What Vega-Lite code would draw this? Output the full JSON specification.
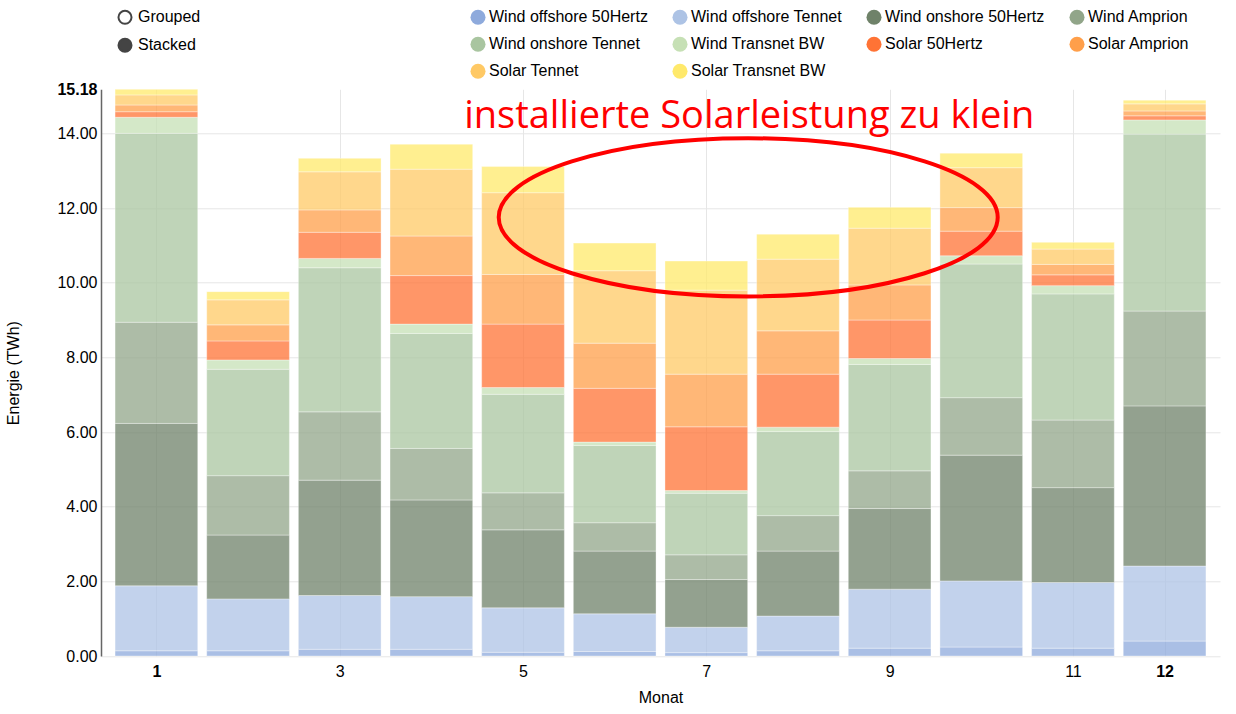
{
  "$schema": "https://vega.github.io/schema/vega-lite/v6.json",
  "width": 1119,
  "height": 566.7,
  "autosize": {"type": "none"},
  "padding": {"left": 101, "top": 89.3, "right": 16, "bottom": 58},
  "config": {"view": {"stroke": null}, "font": "Liberation Sans", "background": "white"},
  "layer": [
    {
      "data": {
        "values": [
          {"m": 1, "k": 1, "s": "Wind offshore 50Hertz", "v": 0.14},
          {"m": 1, "k": 2, "s": "Wind offshore Tennet", "v": 1.74},
          {"m": 1, "k": 3, "s": "Wind onshore 50Hertz", "v": 4.35},
          {"m": 1, "k": 4, "s": "Wind Amprion", "v": 2.71},
          {"m": 1, "k": 5, "s": "Wind onshore Tennet", "v": 5.06},
          {"m": 1, "k": 6, "s": "Wind Transnet BW", "v": 0.43},
          {"m": 1, "k": 7, "s": "Solar 50Hertz", "v": 0.15},
          {"m": 1, "k": 8, "s": "Solar Amprion", "v": 0.18},
          {"m": 1, "k": 9, "s": "Solar Tennet", "v": 0.27},
          {"m": 1, "k": 10, "s": "Solar Transnet BW", "v": 0.15},
          {"m": 2, "k": 1, "s": "Wind offshore 50Hertz", "v": 0.14},
          {"m": 2, "k": 2, "s": "Wind offshore Tennet", "v": 1.39},
          {"m": 2, "k": 3, "s": "Wind onshore 50Hertz", "v": 1.71},
          {"m": 2, "k": 4, "s": "Wind Amprion", "v": 1.59},
          {"m": 2, "k": 5, "s": "Wind onshore Tennet", "v": 2.85},
          {"m": 2, "k": 6, "s": "Wind Transnet BW", "v": 0.25},
          {"m": 2, "k": 7, "s": "Solar 50Hertz", "v": 0.51},
          {"m": 2, "k": 8, "s": "Solar Amprion", "v": 0.43},
          {"m": 2, "k": 9, "s": "Solar Tennet", "v": 0.67},
          {"m": 2, "k": 10, "s": "Solar Transnet BW", "v": 0.22},
          {"m": 3, "k": 1, "s": "Wind offshore 50Hertz", "v": 0.18},
          {"m": 3, "k": 2, "s": "Wind offshore Tennet", "v": 1.44},
          {"m": 3, "k": 3, "s": "Wind onshore 50Hertz", "v": 3.09},
          {"m": 3, "k": 4, "s": "Wind Amprion", "v": 1.83},
          {"m": 3, "k": 5, "s": "Wind onshore Tennet", "v": 3.86},
          {"m": 3, "k": 6, "s": "Wind Transnet BW", "v": 0.25},
          {"m": 3, "k": 7, "s": "Solar 50Hertz", "v": 0.70},
          {"m": 3, "k": 8, "s": "Solar Amprion", "v": 0.60},
          {"m": 3, "k": 9, "s": "Solar Tennet", "v": 1.02},
          {"m": 3, "k": 10, "s": "Solar Transnet BW", "v": 0.36},
          {"m": 4, "k": 1, "s": "Wind offshore 50Hertz", "v": 0.18},
          {"m": 4, "k": 2, "s": "Wind offshore Tennet", "v": 1.41},
          {"m": 4, "k": 3, "s": "Wind onshore 50Hertz", "v": 2.59},
          {"m": 4, "k": 4, "s": "Wind Amprion", "v": 1.38},
          {"m": 4, "k": 5, "s": "Wind onshore Tennet", "v": 3.08},
          {"m": 4, "k": 6, "s": "Wind Transnet BW", "v": 0.25},
          {"m": 4, "k": 7, "s": "Solar 50Hertz", "v": 1.30},
          {"m": 4, "k": 8, "s": "Solar Amprion", "v": 1.06},
          {"m": 4, "k": 9, "s": "Solar Tennet", "v": 1.79},
          {"m": 4, "k": 10, "s": "Solar Transnet BW", "v": 0.67},
          {"m": 5, "k": 1, "s": "Wind offshore 50Hertz", "v": 0.10},
          {"m": 5, "k": 2, "s": "Wind offshore Tennet", "v": 1.19},
          {"m": 5, "k": 3, "s": "Wind onshore 50Hertz", "v": 2.09},
          {"m": 5, "k": 4, "s": "Wind Amprion", "v": 0.99},
          {"m": 5, "k": 5, "s": "Wind onshore Tennet", "v": 2.64},
          {"m": 5, "k": 6, "s": "Wind Transnet BW", "v": 0.18},
          {"m": 5, "k": 7, "s": "Solar 50Hertz", "v": 1.70},
          {"m": 5, "k": 8, "s": "Solar Amprion", "v": 1.33},
          {"m": 5, "k": 9, "s": "Solar Tennet", "v": 2.19},
          {"m": 5, "k": 10, "s": "Solar Transnet BW", "v": 0.70},
          {"m": 6, "k": 1, "s": "Wind offshore 50Hertz", "v": 0.12},
          {"m": 6, "k": 2, "s": "Wind offshore Tennet", "v": 1.01},
          {"m": 6, "k": 3, "s": "Wind onshore 50Hertz", "v": 1.68},
          {"m": 6, "k": 4, "s": "Wind Amprion", "v": 0.76},
          {"m": 6, "k": 5, "s": "Wind onshore Tennet", "v": 2.07},
          {"m": 6, "k": 6, "s": "Wind Transnet BW", "v": 0.09},
          {"m": 6, "k": 7, "s": "Solar 50Hertz", "v": 1.44},
          {"m": 6, "k": 8, "s": "Solar Amprion", "v": 1.21},
          {"m": 6, "k": 9, "s": "Solar Tennet", "v": 1.94},
          {"m": 6, "k": 10, "s": "Solar Transnet BW", "v": 0.74},
          {"m": 7, "k": 1, "s": "Wind offshore 50Hertz", "v": 0.09},
          {"m": 7, "k": 2, "s": "Wind offshore Tennet", "v": 0.68},
          {"m": 7, "k": 3, "s": "Wind onshore 50Hertz", "v": 1.28},
          {"m": 7, "k": 4, "s": "Wind Amprion", "v": 0.66},
          {"m": 7, "k": 5, "s": "Wind onshore Tennet", "v": 1.65},
          {"m": 7, "k": 6, "s": "Wind Transnet BW", "v": 0.07},
          {"m": 7, "k": 7, "s": "Solar 50Hertz", "v": 1.71},
          {"m": 7, "k": 8, "s": "Solar Amprion", "v": 1.41},
          {"m": 7, "k": 9, "s": "Solar Tennet", "v": 2.25},
          {"m": 7, "k": 10, "s": "Solar Transnet BW", "v": 0.78},
          {"m": 8, "k": 1, "s": "Wind offshore 50Hertz", "v": 0.14},
          {"m": 8, "k": 2, "s": "Wind offshore Tennet", "v": 0.93},
          {"m": 8, "k": 3, "s": "Wind onshore 50Hertz", "v": 1.74},
          {"m": 8, "k": 4, "s": "Wind Amprion", "v": 0.95},
          {"m": 8, "k": 5, "s": "Wind onshore Tennet", "v": 2.25},
          {"m": 8, "k": 6, "s": "Wind Transnet BW", "v": 0.12},
          {"m": 8, "k": 7, "s": "Solar 50Hertz", "v": 1.42},
          {"m": 8, "k": 8, "s": "Solar Amprion", "v": 1.16},
          {"m": 8, "k": 9, "s": "Solar Tennet", "v": 1.92},
          {"m": 8, "k": 10, "s": "Solar Transnet BW", "v": 0.67},
          {"m": 9, "k": 1, "s": "Wind offshore 50Hertz", "v": 0.21},
          {"m": 9, "k": 2, "s": "Wind offshore Tennet", "v": 1.58},
          {"m": 9, "k": 3, "s": "Wind onshore 50Hertz", "v": 2.16},
          {"m": 9, "k": 4, "s": "Wind Amprion", "v": 1.01},
          {"m": 9, "k": 5, "s": "Wind onshore Tennet", "v": 2.85},
          {"m": 9, "k": 6, "s": "Wind Transnet BW", "v": 0.16},
          {"m": 9, "k": 7, "s": "Solar 50Hertz", "v": 1.03},
          {"m": 9, "k": 8, "s": "Solar Amprion", "v": 0.94},
          {"m": 9, "k": 9, "s": "Solar Tennet", "v": 1.52},
          {"m": 9, "k": 10, "s": "Solar Transnet BW", "v": 0.56},
          {"m": 10, "k": 1, "s": "Wind offshore 50Hertz", "v": 0.24},
          {"m": 10, "k": 2, "s": "Wind offshore Tennet", "v": 1.77},
          {"m": 10, "k": 3, "s": "Wind onshore 50Hertz", "v": 3.37},
          {"m": 10, "k": 4, "s": "Wind Amprion", "v": 1.54},
          {"m": 10, "k": 5, "s": "Wind onshore Tennet", "v": 3.58},
          {"m": 10, "k": 6, "s": "Wind Transnet BW", "v": 0.22},
          {"m": 10, "k": 7, "s": "Solar 50Hertz", "v": 0.66},
          {"m": 10, "k": 8, "s": "Solar Amprion", "v": 0.63},
          {"m": 10, "k": 9, "s": "Solar Tennet", "v": 1.07},
          {"m": 10, "k": 10, "s": "Solar Transnet BW", "v": 0.39},
          {"m": 11, "k": 1, "s": "Wind offshore 50Hertz", "v": 0.21},
          {"m": 11, "k": 2, "s": "Wind offshore Tennet", "v": 1.76},
          {"m": 11, "k": 3, "s": "Wind onshore 50Hertz", "v": 2.54},
          {"m": 11, "k": 4, "s": "Wind Amprion", "v": 1.81},
          {"m": 11, "k": 5, "s": "Wind onshore Tennet", "v": 3.38},
          {"m": 11, "k": 6, "s": "Wind Transnet BW", "v": 0.22},
          {"m": 11, "k": 7, "s": "Solar 50Hertz", "v": 0.29},
          {"m": 11, "k": 8, "s": "Solar Amprion", "v": 0.28},
          {"m": 11, "k": 9, "s": "Solar Tennet", "v": 0.41},
          {"m": 11, "k": 10, "s": "Solar Transnet BW", "v": 0.18},
          {"m": 12, "k": 1, "s": "Wind offshore 50Hertz", "v": 0.40},
          {"m": 12, "k": 2, "s": "Wind offshore Tennet", "v": 2.01},
          {"m": 12, "k": 3, "s": "Wind onshore 50Hertz", "v": 4.29},
          {"m": 12, "k": 4, "s": "Wind Amprion", "v": 2.54},
          {"m": 12, "k": 5, "s": "Wind onshore Tennet", "v": 4.74},
          {"m": 12, "k": 6, "s": "Wind Transnet BW", "v": 0.38},
          {"m": 12, "k": 7, "s": "Solar 50Hertz", "v": 0.11},
          {"m": 12, "k": 8, "s": "Solar Amprion", "v": 0.13},
          {"m": 12, "k": 9, "s": "Solar Tennet", "v": 0.19},
          {"m": 12, "k": 10, "s": "Solar Transnet BW", "v": 0.10}
        ]
      },
      "mark": {
        "type": "bar",
        "orient": "vertical",
        "width": 82.7,
        "fillOpacity": 0.75,
        "stroke": "#ffffff",
        "strokeWidth": 1,
        "strokeOpacity": 0.35
      },
      "encoding": {
        "x": {
          "field": "m",
          "type": "quantitative",
          "scale": {"domain": [0.45, 12.55], "nice": false, "zero": false},
          "axis": {
            "title": "Monat",
            "values": [1, 3, 5, 7, 9, 11, 12],
            "format": "d",
            "labelFontSize": 16,
            "labelColor": "#000000",
            "labelFontWeight": {"condition": {"test": "datum.value == 1 || datum.value == 12", "value": "bold"}, "value": "normal"},
            "ticks": false,
            "domain": false,
            "labelPadding": 7,
            "grid": true,
            "gridColor": "#e6e6e6",
            "titleFontSize": 16,
            "titleFontWeight": "normal",
            "titleColor": "#000000",
            "titlePadding": 10
          }
        },
        "y": {
          "field": "v",
          "type": "quantitative",
          "stack": "zero",
          "scale": {"domain": [0, 15.18], "nice": false},
          "axis": {
            "title": "Energie (TWh)",
            "values": [0, 2, 4, 6, 8, 10, 12, 14, 15.18],
            "format": ".2f",
            "labelFontSize": 16,
            "labelColor": "#000000",
            "labelFontWeight": {"condition": {"test": "datum.value > 15", "value": "bold"}, "value": "normal"},
            "ticks": false,
            "labelPadding": 4,
            "domainColor": "#666666",
            "domainWidth": 1.5,
            "grid": true,
            "gridColor": {"condition": {"test": "datum.value > 15", "value": "rgba(0,0,0,0)"}, "value": "#e6e6e6"},
            "titleFontSize": 16,
            "titleFontWeight": "normal",
            "titleColor": "#000000",
            "titlePadding": 35
          }
        },
        "color": {
          "field": "s",
          "type": "nominal",
          "sort": ["Wind offshore 50Hertz", "Wind offshore Tennet", "Wind onshore 50Hertz", "Wind Amprion", "Wind onshore Tennet", "Wind Transnet BW", "Solar 50Hertz", "Solar Amprion", "Solar Tennet", "Solar Transnet BW"],
          "scale": {
            "domain": ["Wind offshore 50Hertz", "Wind offshore Tennet", "Wind onshore 50Hertz", "Wind Amprion", "Wind onshore Tennet", "Wind Transnet BW", "Solar 50Hertz", "Solar Amprion", "Solar Tennet", "Solar Transnet BW"],
            "range": ["#8eaadc", "#adc3e5", "#6f8269", "#91a589", "#a9c5a0", "#c6e0b5", "#ff7335", "#ff9f4a", "#ffc965", "#ffe96b"]
          },
          "legend": {
            "title": null,
            "orient": "none",
            "direction": "horizontal",
            "legendX": 369,
            "legendY": -80,
            "columns": 4,
            "gridAlign": "each",
            "columnPadding": 24,
            "rowPadding": 11,
            "padding": 0,
            "symbolType": "circle",
            "symbolSize": 225,
            "symbolOpacity": 1,
            "symbolStrokeWidth": 0,
            "labelFontSize": 16,
            "labelColor": "#000000",
            "labelOffset": 3,
            "labelLimit": 300
          }
        },
        "order": {"field": "k", "type": "quantitative"}
      }
    },
    {
      "data": {"values": [{"mode": "Grouped"}, {"mode": "Stacked"}]},
      "mark": {"type": "point", "filled": true, "opacity": 0},
      "encoding": {
        "fill": {
          "field": "mode",
          "type": "nominal",
          "scale": {"domain": ["Grouped", "Stacked"], "range": ["#ffffff", "#444444"]},
          "legend": {
            "title": null,
            "orient": "none",
            "direction": "vertical",
            "legendX": 16,
            "legendY": -80,
            "padding": 0,
            "rowPadding": 6,
            "symbolType": "circle",
            "symbolSize": 170,
            "symbolOpacity": 1,
            "symbolStrokeColor": "#444444",
            "symbolStrokeWidth": 2,
            "labelFontSize": 16,
            "labelColor": "#000000",
            "labelOffset": 5
          }
        }
      }
    },
    {
      "data": {"values": [{}]},
      "mark": {
        "type": "point",
        "shape": "M -1 0 C -1 -0.175 -0.552 -0.317 0 -0.317 C 0.552 -0.317 1 -0.175 1 0 C 1 0.175 0.552 0.317 0 0.317 C -0.552 0.317 -1 0.175 -1 0 Z",
        "size": 249001,
        "filled": false,
        "stroke": "#ff0000",
        "strokeWidth": 4,
        "opacity": 1
      },
      "encoding": {
        "x": {"datum": 7.457, "type": "quantitative"},
        "y": {"datum": 11.75, "type": "quantitative"}
      }
    },
    {
      "data": {"values": [{}]},
      "mark": {
        "type": "text",
        "font": "Open Sans",
        "fontSize": 38,
        "color": "#ff0000",
        "align": "center",
        "baseline": "alphabetic"
      },
      "encoding": {
        "x": {"datum": 7.468, "type": "quantitative"},
        "y": {"datum": 14.14, "type": "quantitative"},
        "text": {"value": "installierte Solarleistung zu klein"}
      }
    }
  ]
}
